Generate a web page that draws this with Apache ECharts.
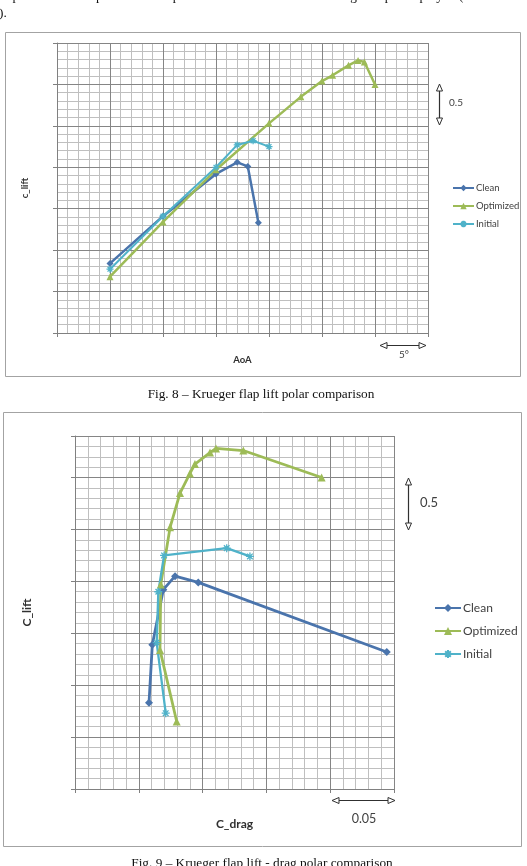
<!DOCTYPE html>
<html><head><meta charset="utf-8">
<script src="https://cdn.jsdelivr.net/npm/echarts@6/dist/echarts.min.js"></script>
<style>html,body{margin:0;padding:0;background:#fff;}#c{width:527px;height:866px;}</style>
</head><body><div id="c"></div>
<script>
// ---- Fig. 8: lift polar (AoA [deg] vs C_lift) ----
const aoaClean = [-5, 0, 5, 7, 8, 9];
const liftClean = [-0.16, 0.41, 0.92, 1.06, 1.01, 0.33];
const aoaOptimized = [-5, 0, 5, 10, 13, 15, 16, 17.5, 18.4, 19, 20];
const liftOptimized = [-0.32, 0.34, 0.97, 1.53, 1.85, 2.04, 2.11, 2.23, 2.29, 2.27, 2.0];
const aoaInitial = [-5, 0, 5, 7, 8.5, 10];
const liftInitial = [-0.23, 0.41, 1.0, 1.27, 1.32, 1.25];

// ---- Fig. 9: lift-drag polar (C_drag vs C_lift) ----
const dragClean = [0.058, 0.0606, 0.0692, 0.0784, 0.0966, 0.2443];
const polarLiftClean = [-0.17, 0.39, 0.92, 1.05, 0.99, 0.32];
const dragOptimized = [0.0797, 0.0666, 0.0672, 0.0745, 0.0823, 0.0901, 0.094, 0.1058, 0.1105, 0.1319, 0.1933];
const polarLiftOptimized = [-0.35, 0.34, 0.97, 1.52, 1.85, 2.04, 2.13, 2.24, 2.28, 2.26, 2.0];
const dragInitial = [0.0711, 0.064, 0.0653, 0.0698, 0.1189, 0.1371];
const polarLiftInitial = [-0.27, 0.41, 0.9, 1.25, 1.32, 1.24];

const seriesNames = ['Clean', 'Optimized', 'Initial'];
const axisTitles = ['c_lift', 'AoA', 'C_lift', 'C_drag'];
const captions = ['Fig. 8 \u2013 Krueger flap lift polar comparison', 'Fig. 9 \u2013 Krueger flap lift - drag polar comparison'];
const scaleLabels = ['0.5', '5\u00B0', '0.5', '0.05'];
const bodyText = ['slope of the linear part of the lift polar are identical when the Krueger flap is deployed (see', ').'];

const C_CLEAN = '#4a74ac', C_OPT = '#9dbb57', C_INIT = '#4fb2c9';
const FONT = 'Lato, "Open Sans", sans-serif';
const SERIF = '"Liberation Serif", "DejaVu Serif", serif';

function zip(a, b) { return a.map((v, i) => [v, b[i]]); }

function majorAxis(gi, min, max, interval, name, nameGap, nameSize, isY) {
  return {
    type: 'value', gridIndex: gi, min: min, max: max, interval: interval, z: 2,
    name: name, nameLocation: 'middle', nameGap: nameGap, nameRotate: isY ? 90 : 0,
    nameTextStyle: { fontFamily: FONT, fontWeight: 'bold', fontSize: nameSize, color: '#303030' },
    axisLine: { show: true, onZero: false, lineStyle: { color: '#808080', width: 1 } },
    axisTick: { show: true, inside: false, length: 4, lineStyle: { color: '#808080', width: 1 } },
    axisLabel: { show: false },
    splitLine: { show: true, lineStyle: { color: '#858585', width: 1 } }
  };
}
function minorAxis(gi, min, max, interval) {
  return {
    type: 'value', gridIndex: gi, min: min, max: max, interval: interval, z: 1,
    axisLine: { show: false }, axisTick: { show: false }, axisLabel: { show: false },
    splitLine: { show: true, lineStyle: { color: '#bfbfbf', width: 1 } }
  };
}

const asterisk = 'path://M5,0L5,10M0,5L10,5M1.5,1.5L8.5,8.5M8.5,1.5L1.5,8.5';

function lineSeries(name, data, xi, yi, color, symbol, size, width) {
  const s = {
    name: name, type: 'line', xAxisIndex: xi, yAxisIndex: yi, data: data,
    symbol: symbol, symbolSize: size, showAllSymbol: true, z: 5,
    lineStyle: { color: color, width: width },
    itemStyle: { color: color }
  };
  if (symbol === asterisk) s.itemStyle = { color: 'rgba(0,0,0,0)', borderColor: color, borderWidth: 1.3 };
  return s;
}

function vArrow(x, y1, y2) {
  const st = { fill: '#fff', stroke: '#303030', lineWidth: 1 };
  return [
    { type: 'line', shape: { x1: x, y1: y1 + 6, x2: x, y2: y2 - 6 }, style: { stroke: '#303030', lineWidth: 1.2 } },
    { type: 'polygon', shape: { points: [[x, y1], [x - 3, y1 + 7], [x + 3, y1 + 7]] }, style: st },
    { type: 'polygon', shape: { points: [[x, y2], [x - 3, y2 - 7], [x + 3, y2 - 7]] }, style: st }
  ];
}
function hArrow(y, x1, x2) {
  const st = { fill: '#fff', stroke: '#303030', lineWidth: 1 };
  return [
    { type: 'line', shape: { x1: x1 + 6, y1: y, x2: x2 - 6, y2: y }, style: { stroke: '#303030', lineWidth: 1.2 } },
    { type: 'polygon', shape: { points: [[x1, y], [x1 + 7, y - 3], [x1 + 7, y + 3]] }, style: st },
    { type: 'polygon', shape: { points: [[x2, y], [x2 - 7, y - 3], [x2 - 7, y + 3]] }, style: st }
  ];
}
function txt(text, x, y, size, opts) {
  return Object.assign({ type: 'text', x: x, y: y, z: 10,
    style: Object.assign({ text: text, font: size + 'px ' + FONT, fill: '#404040', align: 'left', verticalAlign: 'middle' }, opts || {}) });
}

const graphics = [].concat(
  [
    { type: 'rect', z: 0, shape: { x: 5.5, y: 32.5, width: 515, height: 344 }, style: { fill: 'none', stroke: '#a3a3a3', lineWidth: 1 } },
    { type: 'rect', z: 0, shape: { x: 3.5, y: 412.5, width: 518, height: 434 }, style: { fill: 'none', stroke: '#a3a3a3', lineWidth: 1 } }
  ],
  vArrow(439.5, 84, 125),
  hArrow(345.5, 380, 426),
  vArrow(408.5, 478, 530),
  hArrow(800.5, 332, 395),
  [
    txt(scaleLabels[0], 449, 103, 10),
    txt(scaleLabels[1], 404, 355, 10, { align: 'center' }),
    txt(scaleLabels[2], 420, 503, 13),
    txt(scaleLabels[3], 364, 819, 12.5, { align: 'center' }),
    { type: 'text', x: -3, y: -10, style: { text: bodyText[0], font: '13.3px ' + SERIF, fill: '#111', verticalAlign: 'top' } },
    { type: 'text', x: -1, y: 7, style: { text: bodyText[1], font: '13.3px ' + SERIF, fill: '#111', verticalAlign: 'top' } },
    { type: 'text', x: 261, y: 395, style: { text: captions[0], font: '13.3px ' + SERIF, fill: '#111', align: 'center', verticalAlign: 'middle' } },
    { type: 'text', x: 262, y: 864, style: { text: captions[1], font: '13.3px ' + SERIF, fill: '#111', align: 'center', verticalAlign: 'middle' } }
  ]
);

const option = {
  animation: false,
  backgroundColor: '#fff',
  grid: [
    { left: 57, top: 43, width: 371, height: 290 },
    { left: 75, top: 436, width: 319, height: 353 }
  ],
  xAxis: [
    majorAxis(0, -10, 25, 5, axisTitles[1], 22, 9.5, false),
    minorAxis(0, -10, 25, 1),
    majorAxis(1, 0, 0.25, 0.05, axisTitles[3], 29, 12, false),
    minorAxis(1, 0, 0.25, 0.01)
  ],
  yAxis: [
    majorAxis(0, -1, 2.5, 0.5, axisTitles[0], 27, 9.5, true),
    minorAxis(0, -1, 2.5, 0.1),
    majorAxis(1, -1, 2.4, 0.5, axisTitles[2], 42, 12, true),
    minorAxis(1, -1, 2.4, 0.1)
  ],
  legend: [
    { data: seriesNames, orient: 'vertical', left: 447, top: 178, itemWidth: 21, itemHeight: 8, itemGap: 8,
      textStyle: { fontFamily: FONT, fontSize: 9.5, color: '#404040', padding: [0, 0, 0, -3] } },
    { data: seriesNames, orient: 'vertical', left: 429, top: 597, itemWidth: 26, itemHeight: 10, itemGap: 11,
      textStyle: { fontFamily: FONT, fontSize: 12, color: '#404040', padding: [0, 0, 0, -3] } }
  ],
  series: [
    lineSeries(seriesNames[0], zip(aoaClean, liftClean), 0, 0, C_CLEAN, 'diamond', 7, 2.5),
    lineSeries(seriesNames[1], zip(aoaOptimized, liftOptimized), 0, 0, C_OPT, 'triangle', 7, 2.5),
    lineSeries(seriesNames[2], zip(aoaInitial, liftInitial), 0, 0, C_INIT, asterisk, 7, 2),
    lineSeries(seriesNames[0], zip(dragClean, polarLiftClean), 2, 2, C_CLEAN, 'diamond', 8, 2.8),
    lineSeries(seriesNames[1], zip(dragOptimized, polarLiftOptimized), 2, 2, C_OPT, 'triangle', 8, 2.8),
    lineSeries(seriesNames[2], zip(dragInitial, polarLiftInitial), 2, 2, C_INIT, asterisk, 8, 2.3)
  ],
  graphic: { elements: graphics }
};

const chart = echarts.init(document.getElementById('c'), null, { renderer: 'canvas' });
chart.setOption(option);
</script>
</body></html>
